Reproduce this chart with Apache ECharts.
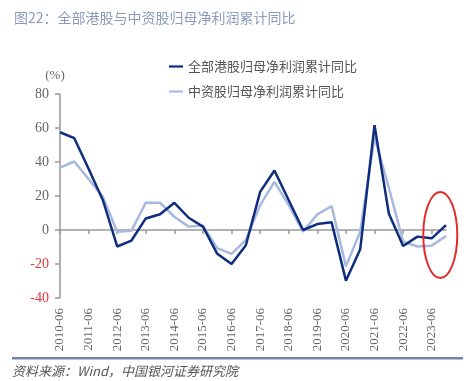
<!DOCTYPE html>
<html><head><meta charset="utf-8">
<script src="https://cdn.jsdelivr.net/npm/echarts@6/dist/echarts.min.js"></script>
<style>html,body{margin:0;padding:0;background:#fff;}#c{width:470px;height:381px;}</style>
</head><body><div id="c"></div>
<script>
const categories = ['2010-06','2010-12','2011-06','2011-12','2012-06','2012-12','2013-06','2013-12','2014-06','2014-12','2015-06','2015-12','2016-06','2016-12','2017-06','2017-12','2018-06','2018-12','2019-06','2019-12','2020-06','2020-12','2021-06','2021-12','2022-06','2022-12','2023-06','2023-12'];
const hkAll = [57.5,54,36,17.5,-9.7,-6.2,6.8,9.3,16,7.2,2,-14,-20,-9,22.4,35,17.5,0,3.5,4.5,-29.8,-11.3,61.7,9.7,-9.4,-3.9,-4.9,2.9];
const chinaStocks = [36.7,40.3,30,19.5,-1,-0.4,16,16,7.8,2,2.5,-10.7,-14,-5.8,14.6,28.3,14.6,-1,9.2,14,-21.4,-1,54.6,25,-6.8,-9.7,-9.2,-3.5];
const yTicks = [-40,-20,0,20,40,60,80];
const seriesNames = ['全部港股归母净利润累计同比','中资股归母净利润累计同比'];
const titleText = '图22：全部港股与中资股归母净利润累计同比';
const sourceText = '资料来源：Wind，中国银河证券研究院';

const chart = echarts.init(document.getElementById('c'));
const font = '"Noto Sans CJK SC", "Noto Sans", sans-serif';
const numFont = '"Liberation Serif", "DejaVu Serif", serif';
chart.setOption({
  animation: false,
  textStyle: {fontFamily: font},
  title: {text: titleText, left: 9, top: 6, textStyle: {fontSize: 14, fontWeight: 'normal', color: '#8d9bbb', fontFamily: font}},
  legend: {
    orient: 'vertical', left: 164, top: 55, itemGap: 12, itemWidth: 14, itemHeight: 10,
    icon: 'path://M0,4L16,4L16,6.5L0,6.5Z',
    textStyle: {fontSize: 13, color: '#555', fontFamily: font},
    data: seriesNames
  },
  grid: {left: 60, right: 24, top: 94, bottom: 83, containLabel: false},
  xAxis: [{
    type: 'category', data: categories, boundaryGap: false,
    axisLine: {onZero: true, lineStyle: {color: '#999', width: 1.5}},
    axisTick: {show: true, interval: 1, length: 4, inside: false, lineStyle: {color: '#999', width: 1.5}},
    axisLabel: {show: false}, splitLine: {show: false}
  },{
    type: 'category', data: categories, boundaryGap: false, position: 'bottom',
    axisLine: {show: false, onZero: false}, axisTick: {show: false},
    axisLabel: {interval: 1, rotate: 90, fontSize: 13, color: '#666', margin: 10, fontFamily: numFont},
    splitLine: {show: false}
  }],
  yAxis: {
    type: 'value', min: yTicks[0], max: yTicks[yTicks.length-1], interval: 20,
    name: '(%)', nameLocation: 'end', nameGap: 12, nameTextStyle: {fontSize: 13, color: '#666', fontFamily: numFont, padding: [0, 10, 0, 0]},
    axisLine: {show: true, lineStyle: {color: '#999', width: 1.5}},
    axisTick: {show: true, length: 5, lineStyle: {color: '#999', width: 1.5}},
    axisLabel: {fontSize: 14, margin: 11, fontFamily: numFont, color: function(v){ return Number(v) < 0 ? '#e0393e' : '#666'; }},
    splitLine: {show: false}
  },
  series: [{
    name: seriesNames[0], type: 'line', data: hkAll, xAxisIndex: 0, symbol: 'none',
    lineStyle: {color: '#0f2d7e', width: 2.5}, itemStyle: {color: '#0f2d7e'}, z: 3
  },{
    name: seriesNames[1], type: 'line', data: chinaStocks, xAxisIndex: 0, symbol: 'none',
    lineStyle: {color: '#a7b9df', width: 2.5}, itemStyle: {color: '#a7b9df'}, z: 2
  }]
});

function drawExtras(){
  const p1 = chart.convertToPixel({xAxisIndex: 0, yAxisIndex: 0}, [categories.length-2, -3]);
  const p2 = chart.convertToPixel({xAxisIndex: 0, yAxisIndex: 0}, [categories.length-1, -3]);
  const cx = p1[0] + (p2[0]-p1[0]) * 0.6;
  const cy = p1[1];
  chart.setOption({graphic: [
    {type: 'ellipse', shape: {cx: cx, cy: cy, rx: 17, ry: 43}, style: {fill: 'none', stroke: '#e42b2b', lineWidth: 2}, z: 10},
    {type: 'rect', shape: {x: 12, y: 357, width: 451, height: 2.5}, style: {fill: '#7185aa'}, z: 10},
    {type: 'text', left: 12, top: 365, style: {text: sourceText, fontSize: 13, fill: '#555', fontStyle: 'italic', fontFamily: font}, z: 10}
  ]});
}
drawExtras();
</script></body></html>
